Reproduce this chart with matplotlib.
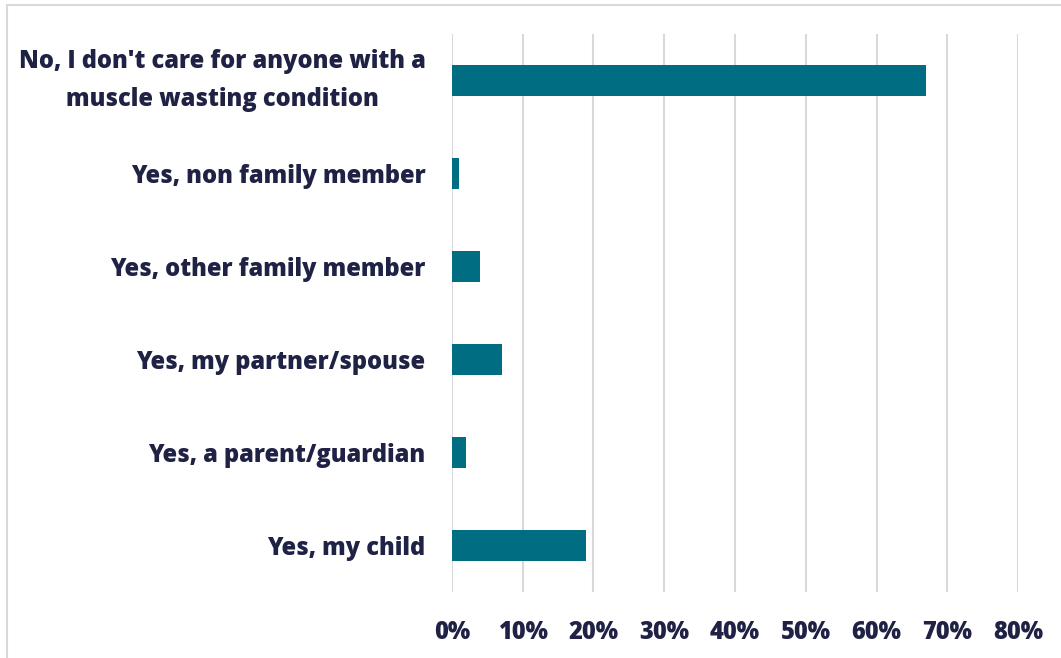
import matplotlib.pyplot as plt
from matplotlib.patches import Rectangle
from matplotlib.ticker import FuncFormatter

categories = [
    "Yes, my child",
    "Yes, a parent/guardian",
    "Yes, my partner/spouse",
    "Yes, other family member",
    "Yes, non family member",
    "No, I don't care for anyone with a\nmuscle wasting condition",
]
values = [19, 2, 7, 4, 1, 67]
xticks = [0, 10, 20, 30, 40, 50, 60, 70, 80]

bar_color = "#006d82"
text_color = "#1f2244"
grid_color = "#d9d9d9"

plt.rcParams["font.family"] = ["Open Sans", "DejaVu Sans"]

fig = plt.figure(figsize=(10.61, 6.58), dpi=100)
ax = fig.add_axes([0.426, 0.1003, 0.5335, 0.848])

ax.barh(range(len(categories)), values, height=0.34, color=bar_color, zorder=2)

ax.set_xlim(0, 80)
ax.set_ylim(-0.5, len(categories) - 0.5)
ax.set_xticks(xticks)
ax.xaxis.set_major_formatter(FuncFormatter(lambda v, _: f"{v:.0f}%"))
ax.set_yticks(range(len(categories)))
ax.set_yticklabels(categories, ha="right", multialignment="center",
                   linespacing=1.7)

ax.grid(axis="x", color=grid_color, linewidth=1.5, zorder=0)
ax.tick_params(axis="both", length=0, labelsize=17, labelcolor=text_color)
ax.tick_params(axis="y", pad=19)
ax.tick_params(axis="x", pad=20)
for lbl in ax.get_xticklabels() + ax.get_yticklabels():
    lbl.set_fontweight("heavy")
for lbl in ax.get_yticklabels():
    if "\n" in lbl.get_text():
        lbl.set_verticalalignment("center")
for s in ax.spines.values():
    s.set_visible(False)

# outer frame around the chart
fig.patches.append(Rectangle((7 / 1061, -0.05), 1.1, (653 / 658) + 0.05,
                             transform=fig.transFigure, fill=False,
                             edgecolor=grid_color, linewidth=1.5))

fig.savefig("out.png", dpi=100)
